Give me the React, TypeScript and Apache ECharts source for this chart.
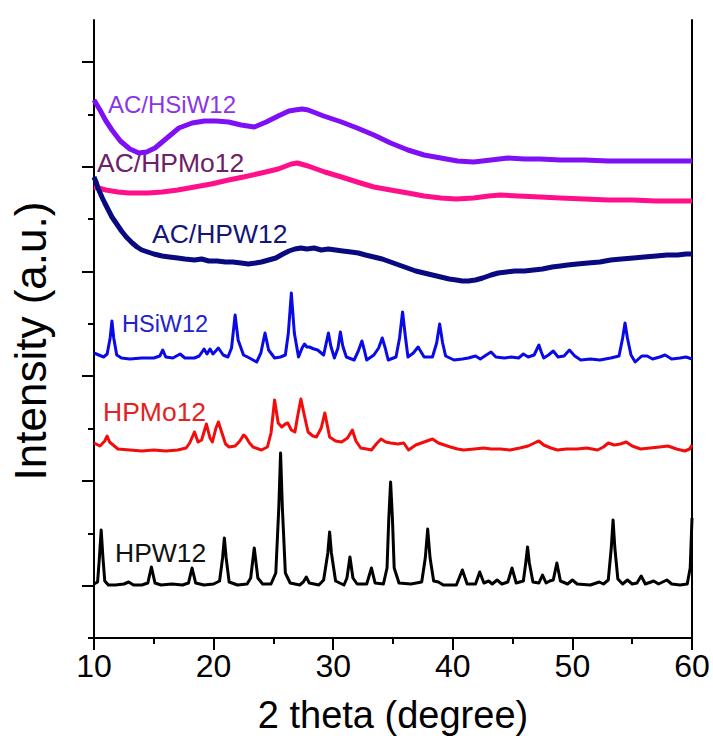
import React, { useEffect, useRef } from "react";
import * as echarts from "echarts";

// x: 2 theta (degree); y: intensity (a.u., stacked offsets)
const xTicks = [10, 20, 30, 40, 50, 60];

const HPW12: number[][] = [
  [10, 54], [10.3, 56], [10.45, 80], [10.6, 108], [10.75, 80], [10.9, 57], [11.2, 53], [11.8, 53], [12.5, 54], [12.9, 56], [13.3, 53],
  [14, 53], [14.5, 55], [14.8, 71], [15.1, 55], [15.6, 53], [16.5, 54], [17.4, 53], [17.9, 55], [18.2, 70], [18.5, 55], [19.2, 53],
  [20, 54], [20.5, 57], [20.75, 80], [20.9, 100], [21.05, 80], [21.3, 56], [22, 53], [22.8, 54], [23.1, 60], [23.4, 90], [23.7, 60],
  [24.1, 54], [24.8, 54], [25.2, 65], [25.45, 130], [25.6, 185], [25.75, 130], [26.0, 65], [26.4, 55], [27.2, 53], [27.5, 56],
  [27.75, 61], [28.0, 55], [28.8, 53], [29.2, 58], [29.55, 85], [29.7, 106], [29.85, 85], [30.2, 57], [30.9, 53], [31.15, 60],
  [31.4, 81], [31.65, 60], [32.0, 54], [32.8, 54], [33.2, 70], [33.5, 55], [34.2, 54], [34.5, 70], [34.65, 120], [34.8, 156],
  [34.95, 120], [35.1, 70], [35.5, 55], [36.5, 54], [37.4, 56], [37.7, 80], [37.9, 109], [38.1, 80], [38.4, 57], [38.8, 56],
  [39.2, 53], [40.3, 53], [40.8, 68], [41.2, 54], [41.9, 54], [42.25, 66], [42.6, 55], [43.0, 57], [43.3, 54], [43.7, 58],
  [44.1, 54], [44.6, 56], [44.95, 70], [45.3, 55], [45.9, 57], [46.1, 75], [46.25, 91], [46.4, 75], [46.7, 56], [47.2, 55],
  [47.5, 63], [47.8, 55], [48.1, 57], [48.4, 58], [48.7, 75], [49.0, 57], [49.6, 54], [50.0, 58], [50.4, 54], [51.5, 53],
  [52.25, 56], [52.6, 54], [53.0, 58], [53.25, 90], [53.4, 118], [53.55, 90], [53.8, 59], [54.2, 54], [54.6, 58], [55.0, 54],
  [55.4, 55], [55.75, 62], [56.1, 54], [56.8, 57], [57.2, 54], [57.9, 58], [58.3, 54], [59.0, 53], [59.6, 54], [59.85, 70], [60, 120],
];

const HPMo12: number[][] = [
  [10, 195], [10.5, 192], [10.9, 197], [11.1, 202], [11.3, 196], [11.6, 193], [12, 189], [13, 188], [14, 187], [15, 188],
  [16, 187], [17, 188], [17.7, 190], [18.0, 195], [18.4, 206], [18.7, 196], [19.0, 198], [19.4, 214], [19.7, 200], [19.9, 196],
  [20.2, 210], [20.4, 216], [20.7, 205], [21.0, 194], [21.3, 191], [21.8, 192], [22.2, 197], [22.5, 203], [22.7, 201], [23.0, 195],
  [23.3, 191], [24.0, 188], [24.5, 191], [24.8, 205], [25.1, 238], [25.4, 215], [25.7, 211], [26.0, 214], [26.2, 215], [26.5, 208],
  [26.8, 206], [27.0, 220], [27.3, 239], [27.6, 222], [27.9, 206], [28.3, 202], [28.6, 201], [29.0, 210], [29.3, 225], [29.55, 210],
  [29.7, 201], [30.2, 197], [30.7, 196], [31.2, 200], [31.6, 208], [31.9, 197], [32.3, 190], [32.8, 189], [33.2, 188], [33.6, 194],
  [34, 199], [34.4, 196], [34.8, 195], [35.4, 194], [35.9, 195], [36.3, 188], [36.9, 193], [37.6, 196], [38.3, 199], [38.8, 195],
  [39.3, 193], [39.8, 191], [40.4, 189], [40.9, 188], [41.8, 189], [42.6, 190], [43.2, 189], [44.0, 189], [44.8, 188], [45.6, 190],
  [46.3, 192], [47.0, 196], [47.2, 197], [47.6, 193], [48.2, 190], [48.75, 188], [49.5, 189], [50.4, 189], [51.2, 190], [52.1, 188],
  [52.6, 191], [53.0, 195], [53.5, 193], [54.0, 194], [54.5, 196], [55.0, 192], [55.7, 189], [56.5, 190], [57.3, 191], [58.0, 192],
  [58.7, 189], [59.4, 187], [59.8, 189], [60, 193],
];

const HSiW12: number[][] = [
  [10, 285], [10.4, 283], [10.8, 281], [11.1, 284], [11.35, 300], [11.5, 317], [11.65, 300], [11.9, 283], [12.3, 280], [13, 279],
  [14, 280], [15, 280], [15.5, 282], [15.75, 288], [16.0, 281], [16.6, 280], [17.2, 284], [17.6, 280], [18.4, 280], [18.8, 282],
  [19.2, 289], [19.45, 284], [19.7, 289], [19.95, 284], [20.4, 290], [20.8, 283], [21.2, 281], [21.5, 290], [21.8, 323], [22.05, 298],
  [22.5, 283], [23.0, 280], [23.6, 276], [23.95, 285], [24.3, 305], [24.6, 288], [25.1, 280], [25.6, 281], [26.0, 283], [26.25, 305],
  [26.5, 345], [26.75, 305], [27.1, 281], [27.4, 290], [27.6, 294], [27.8, 291], [28.0, 291], [28.4, 289], [28.7, 288], [29.2, 283],
  [29.4, 294], [29.6, 305], [29.8, 292], [30.1, 280], [30.4, 290], [30.6, 306], [30.8, 292], [31.1, 281], [31.75, 278], [32.1, 287],
  [32.4, 297], [32.6, 288], [32.8, 278], [33.4, 283], [33.8, 290], [34.1, 300], [34.35, 290], [34.6, 278], [35.25, 281], [35.55, 300],
  [35.8, 326], [36.05, 300], [36.25, 281], [36.7, 285], [37.1, 291], [37.6, 281], [38.3, 281], [38.65, 295], [38.9, 314], [39.15, 295],
  [39.4, 282], [40.1, 278], [40.8, 279], [41.3, 280], [41.9, 282], [42.3, 279], [42.8, 283], [43.2, 286], [43.6, 281], [44.3, 280],
  [44.9, 281], [45.5, 280], [45.9, 284], [46.3, 281], [46.8, 283], [47.0, 288], [47.2, 293], [47.4, 286], [47.6, 280], [48.0, 283],
  [48.4, 287], [48.8, 281], [49.3, 282], [49.75, 288], [50.2, 282], [50.7, 278], [51.5, 279], [52.3, 278], [53.2, 280], [53.9, 282],
  [54.2, 300], [54.4, 315], [54.6, 300], [54.9, 283], [55.25, 276], [55.8, 282], [56.25, 282], [56.7, 279], [57.3, 281], [57.75, 283],
  [58.3, 279], [59.0, 280], [59.5, 281], [60, 279],
];

const AC_HPW12: number[][] = [
  [10, 461], [10.2, 455], [10.4, 448], [10.7, 440], [10.9, 435], [11.2, 428], [11.5, 421], [11.9, 414], [12.3, 407], [12.7, 401],
  [13.2, 395], [13.6, 391], [14.0, 388], [14.5, 386], [15.0, 384], [15.7, 382], [16.3, 381], [17.0, 380], [17.6, 379], [18.4, 378],
  [19.0, 379], [19.6, 377], [20.3, 377], [21.0, 376], [21.6, 376], [22.3, 375], [22.9, 374], [23.5, 375], [24.0, 376], [24.6, 378],
  [25.2, 380], [25.8, 384], [26.3, 387], [26.8, 389], [27.3, 390], [27.8, 389], [28.4, 390], [29.0, 388], [29.6, 389], [30.2, 388],
  [30.8, 387], [31.5, 386], [32.1, 385], [32.7, 383], [33.4, 381], [34.1, 379], [34.8, 376], [35.5, 373], [36.2, 370], [36.9, 367],
  [37.6, 365], [38.3, 363], [39.0, 361], [39.7, 359], [40.3, 358], [40.8, 357], [41.3, 357], [41.9, 358], [42.5, 360], [43.2, 363],
  [43.8, 365], [44.5, 366], [45.2, 367], [46.0, 367], [46.75, 368], [47.5, 369], [48.3, 371], [49.0, 372], [49.6, 373], [50.4, 374],
  [51.3, 375], [52.3, 376], [53.2, 378], [54.1, 379], [55.1, 380], [56.0, 381], [57.0, 382], [57.9, 383], [58.8, 383], [59.5, 384],
  [60, 384],
];

const AC_HPMo12: number[][] = [
  [10, 451], [11, 448], [12, 446], [12.9, 445], [14.5, 445], [15.7, 446], [17, 448], [18.4, 451], [19.8, 454], [21.25, 458],
  [22.5, 461], [24, 465], [25.4, 469], [26.5, 474], [27, 475], [27.9, 472], [29.3, 466], [30.7, 461], [32, 456], [33.4, 451],
  [34.8, 448], [36.25, 445], [37.6, 442], [39, 440], [40.3, 439], [41.75, 440], [43, 442], [44, 443], [45.5, 442], [47.3, 441],
  [49, 440], [51, 439], [53, 438], [55, 438], [57, 437], [59, 437], [60, 437],
];

const AC_HSiW12: number[][] = [
  [10, 538], [10.5, 528], [11, 517], [11.5, 508], [12.2, 497], [13, 489], [13.75, 485], [14.4, 486], [15.1, 490], [16.0, 499],
  [17.1, 510], [18.2, 515], [19.25, 517], [20.2, 517], [21.25, 516], [22.3, 513], [23.4, 511], [24.4, 516], [25.4, 522], [26.3, 527],
  [26.8, 528], [27.4, 529], [27.9, 528], [29.2, 522], [30.7, 516], [32, 510], [33.4, 503], [34.8, 495], [36.25, 488], [37.6, 483],
  [39, 480], [40.4, 477], [41.75, 476], [43.2, 478], [44.6, 480], [46, 479], [47.3, 479], [49, 478], [51, 478], [53, 477],
  [55, 477], [57, 477], [59, 477], [60, 477],
];

const seriesNames = ["HPW12", "HPMo12", "HSiW12", "AC/HPMo12", "AC/HSiW12", "AC/HPW12"];
const seriesData = [HPW12, HPMo12, HSiW12, AC_HPMo12, AC_HSiW12, AC_HPW12];
const lineColors = ["#000000", "#f20c0c", "#0a0ae6", "#ff1088", "#7f10f5", "#0a0a80"];
const lineWidths = [3, 3, 3, 5, 5, 5];

const Y_MAX = 618;
const TICK_STEP = 52.36;
const majorTickIdx = [1, 3, 5, 7, 9, 11];
const minorTickIdx = [0, 2, 4, 6, 8, 10];

const FONT = "'Liberation Sans', Arial, sans-serif";

export default function App() {
  const ref = useRef<HTMLDivElement>(null);
  useEffect(() => {
    document.body.style.margin = "0";
    const chart = echarts.init(ref.current!, undefined, { renderer: "svg" });
    const axisLineStyle = { color: "#000", width: 2 };
    chart.setOption({
      animation: false,
      backgroundColor: "#fff",
      grid: { left: 92, right: 21, top: 20, bottom: 116 },
      xAxis: {
        type: "value",
        min: 10,
        max: 60,
        interval: 10,
        name: "2 theta (degree)",
        nameLocation: "middle",
        nameGap: 58,
        nameTextStyle: { fontSize: 38, color: "#000", fontFamily: FONT },
        axisLine: { lineStyle: axisLineStyle },
        axisTick: { length: 12, lineStyle: axisLineStyle },
        minorTick: { show: true, splitNumber: 2, length: 6, lineStyle: axisLineStyle },
        splitLine: { show: false },
        axisLabel: {
          fontSize: 32,
          color: "#000",
          fontFamily: FONT,
          margin: 12,
          customValues: xTicks,
        },
      },
      yAxis: [
        {
          type: "value",
          position: "left",
          min: 0,
          max: Y_MAX,
          name: "Intensity (a.u.)",
          nameLocation: "middle",
          nameGap: 42,
          nameTextStyle: { fontSize: 44, color: "#000", fontFamily: FONT, padding: [0, 24, 0, 0] },
          axisLine: { show: true, lineStyle: axisLineStyle },
          axisTick: {
            show: true,
            length: 12,
            lineStyle: axisLineStyle,
            customValues: majorTickIdx.map((k) => k * TICK_STEP),
          },
          axisLabel: { show: false },
          splitLine: { show: false },
        },
        {
          type: "value",
          position: "left",
          min: 0,
          max: Y_MAX,
          axisLine: { show: false },
          axisTick: {
            show: true,
            length: 6,
            lineStyle: axisLineStyle,
            customValues: minorTickIdx.map((k) => k * TICK_STEP),
          },
          axisLabel: { show: false },
          splitLine: { show: false },
        },
        {
          type: "value",
          position: "right",
          min: 0,
          max: Y_MAX,
          axisLine: { show: true, lineStyle: axisLineStyle },
          axisTick: { show: false },
          axisLabel: { show: false },
          splitLine: { show: false },
        },
      ],
      series: seriesData.map((d, i) => ({
        name: seriesNames[i],
        type: "line",
        data: d,
        showSymbol: false,
        symbol: "none",
        xAxisIndex: 0,
        yAxisIndex: 0,
        lineStyle: { color: lineColors[i], width: lineWidths[i], join: "round" },
        itemStyle: { color: lineColors[i] },
      })),
      graphic: [
        { type: "text", x: 108, y: 104, style: { text: "AC/HSiW12", fill: "#8a36e6", fontSize: 24, fontFamily: FONT, verticalAlign: "middle" } },
        { type: "text", x: 97, y: 163, style: { text: "AC/HPMo12", fill: "#6e2068", fontSize: 26.5, fontFamily: FONT, verticalAlign: "middle" } },
        { type: "text", x: 152, y: 234, style: { text: "AC/HPW12", fill: "#14147a", fontSize: 26.5, fontFamily: FONT, verticalAlign: "middle" } },
        { type: "text", x: 122, y: 324, style: { text: "HSiW12", fill: "#2222cc", fontSize: 23.5, fontFamily: FONT, verticalAlign: "middle" } },
        { type: "text", x: 103, y: 412, style: { text: "HPMo12", fill: "#e32222", fontSize: 26.5, fontFamily: FONT, verticalAlign: "middle" } },
        { type: "text", x: 115, y: 553, style: { text: "HPW12", fill: "#111111", fontSize: 26.5, fontFamily: FONT, verticalAlign: "middle" } },
      ],
    });
    return () => chart.dispose();
  }, []);
  return <div ref={ref} style={{ width: 713, height: 754 }} />;
}
